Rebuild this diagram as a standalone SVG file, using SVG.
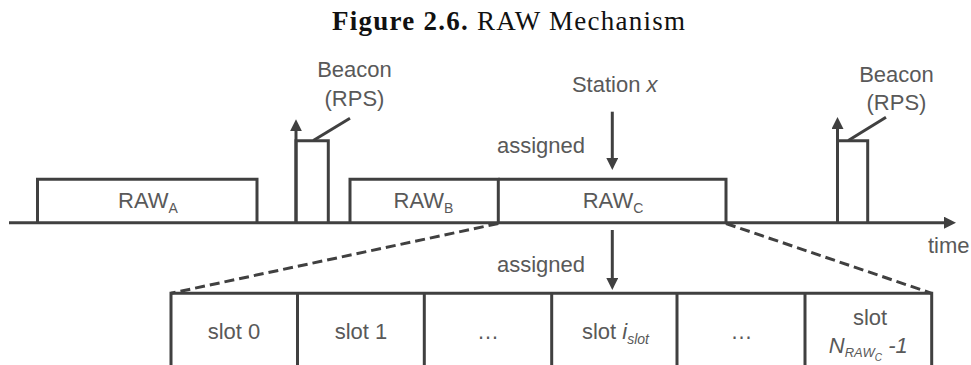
<svg xmlns="http://www.w3.org/2000/svg" width="971" height="365" viewBox="0 0 971 365">
<style>
.ln{fill:none;stroke:#404040;stroke-width:3;stroke-linejoin:miter}
.ds{fill:none;stroke:#404040;stroke-width:3;stroke-dasharray:10 5}
.t{font-family:"Liberation Sans",Arial,sans-serif;font-size:22px;fill:#595959}
.m{text-anchor:middle}
.i{font-style:italic}
.ttl{font-family:"Liberation Serif","Times New Roman",serif;font-size:27px;fill:#111}
</style>
<defs>
<marker id="ah" viewBox="0 0 12 12" refX="6" refY="6" markerWidth="12" markerHeight="12" markerUnits="userSpaceOnUse" orient="auto">
<path d="M0,0 L12,6 L0,12 z" fill="#404040"/>
</marker>
</defs>
<rect width="971" height="365" fill="#fff"/>
<g id="title">
<text class="ttl" x="508.5" y="30" text-anchor="middle" textLength="353"><tspan font-weight="bold">Figure 2.6.</tspan> RAW Mechanism</text>
</g>
<g id="connectors">
<line class="ln" x1="9" y1="222.7" x2="950" y2="222.7" marker-end="url(#ah)"/>
<line class="ln" x1="296" y1="222.7" x2="296" y2="125.3" marker-end="url(#ah)"/>
<line class="ln" x1="837.5" y1="222.7" x2="837.5" y2="123" marker-end="url(#ah)"/>
<line class="ln" x1="313.3" y1="140.5" x2="350" y2="118.3"/>
<line class="ln" x1="848.3" y1="140.5" x2="886" y2="117.3"/>
<line class="ln" x1="612.3" y1="111.7" x2="612.3" y2="164" marker-end="url(#ah)"/>
<line class="ln" x1="612.3" y1="230" x2="612.3" y2="284" marker-end="url(#ah)"/>
<line class="ds" x1="498.3" y1="223.5" x2="171" y2="293.3"/>
<line class="ds" x1="726" y1="223.5" x2="931.7" y2="293.3"/>
</g>
<g id="rawA">
<path class="ln" d="M37.5,222.7 V179.3 H257 V222.7"/>
<text class="t m" x="148" y="208.3">RAW<tspan font-size="14" dy="4.5">A</tspan></text>
</g>
<g id="beacon1">
<path class="ln" d="M296,222.7 V140.7 H328.3 V222.7"/>
<text class="t m" x="354.5" y="77">Beacon</text>
<text class="t m" x="354.5" y="105.5">(RPS)</text>
</g>
<g id="rawB">
<path class="ln" d="M350,222.7 V179.3 H498.3 V222.7"/>
<text class="t m" x="423.5" y="208.3">RAW<tspan font-size="14" dy="4.5">B</tspan></text>
</g>
<g id="rawC">
<path class="ln" d="M498.3,179.3 H726 V222.7"/>
<text class="t m" x="613" y="208.3">RAW<tspan font-size="14" dy="4.5">C</tspan></text>
</g>
<g id="station">
<text class="t m" x="614.7" y="91.7">Station <tspan class="i">x</tspan></text>
<text class="t" x="497" y="153">assigned</text>
</g>
<g id="beacon2">
<path class="ln" d="M837.5,222.7 V140.7 H867.7 V222.7"/>
<text class="t m" x="896.5" y="81.5">Beacon</text>
<text class="t m" x="896.5" y="109.5">(RPS)</text>
</g>
<g id="timeLabel">
<text class="t" x="928" y="253.3">time</text>
</g>
<g id="assigned2">
<text class="t" x="497" y="272">assigned</text>
</g>
<g id="slots">
<path class="ln" d="M171,370 V293.3 H931.7 V370"/>
<path class="ln" d="M297.5,293.3 V370 M424.3,293.3 V370 M551.7,293.3 V370 M677,293.3 V370 M805,293.3 V370"/>
<text class="t m" x="234" y="339">slot 0</text>
<text class="t m" x="361" y="339">slot 1</text>
<text class="t m" x="488" y="339">…</text>
<text class="t m" x="615.5" y="338.5">slot <tspan class="i">i</tspan><tspan class="i" font-size="14" dy="5">slot</tspan></text>
<text class="t m" x="741.5" y="339">…</text>
<text class="t m" x="870" y="325">slot</text>
<text class="t m i" x="868.3" y="353.3">N<tspan font-size="13" dy="3.5">RAW</tspan><tspan font-size="10" dy="4.5">C</tspan><tspan dy="-8"> -1</tspan></text>
</g>
</svg>
